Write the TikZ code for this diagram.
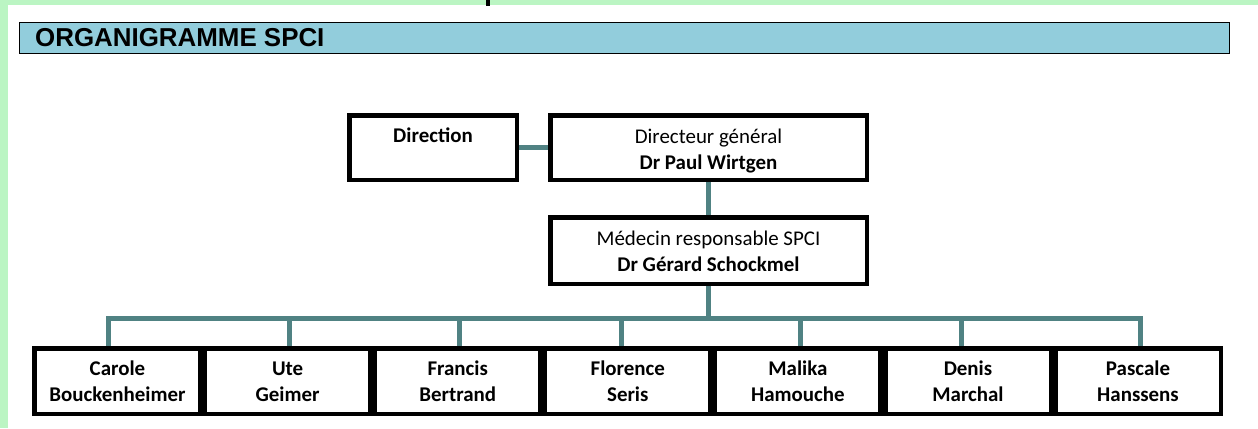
\documentclass[tikz,border=0pt]{standalone}
\usepackage{fontspec}
\setmainfont{Carlito}
\newfontfamily\headfont{Liberation Sans}
\definecolor{bggreen}{RGB}{187,245,195}
\definecolor{headblue}{RGB}{146,205,220}
\definecolor{linkteal}{RGB}{80,130,131}
\newcommand\boxtext[2]{\raisebox{-#1}[\height][\depth]{\begin{tabular}{@{}c@{}}#2\end{tabular}}}
\begin{document}
\begin{tikzpicture}[x=1bp,y=-1bp,
  orgbox/.style={draw=black, line width=3bp, fill=white, rectangle, inner sep=0pt,
    font=\fontsize{21}{26}\selectfont, text=black},
  topbox/.style={orgbox, minimum height=63bp},
  staffbox/.style={orgbox, minimum width=164bp, minimum height=64bp, font=\bfseries\fontsize{21}{26}\selectfont},
  link/.style={draw=linkteal, line width=5bp}]
\useasboundingbox (0,0) rectangle (1258,428);
% background
\fill[white] (0,0) rectangle (1258,428);
\fill[bggreen] (0,0) rectangle (1258,5);
\fill[bggreen] (0,0) rectangle (7.5,428);
\fill[black] (486,0) rectangle (490,6);
% header
\node[draw=black, line width=1.2bp, fill=headblue, inner sep=0pt, minimum width=1210bp, minimum height=31bp, anchor=north west] (header) at (19,22) {};
\node[font=\headfont\bfseries\fontsize{26}{30}\selectfont, anchor=base west, inner sep=0pt] (title) at (35,46.5) {ORGANIGRAMME SPCI};
% top boxes
\node[topbox, minimum width=166bp] (dir) at (433,147.5) {\boxtext{3bp}{\textbf{Direction}\\ \mbox{}}};
\node[topbox, minimum width=315bp] (dg) at (708.5,147.5) {\boxtext{4bp}{Directeur général\\\textbf{Dr Paul Wirtgen}}};
\node[orgbox, minimum width=315bp, minimum height=65bp] (med) at (708.5,250.5) {\boxtext{2.5bp}{Médecin responsable SPCI\\\textbf{Dr Gérard Schockmel}}};
% staff
\node[staffbox] (s1) at (117.5,381) {\boxtext{2bp}{Carole\\Bouckenheimer}};
\node[staffbox] (s2) at (287.6,381) {\boxtext{2bp}{Ute\\Geimer}};
\node[staffbox] (s3) at (457.7,381) {\boxtext{2bp}{Francis\\Bertrand}};
\node[staffbox] (s4) at (627.8,381) {\boxtext{2bp}{Florence\\Seris}};
\node[staffbox] (s5) at (797.9,381) {\boxtext{2bp}{Malika\\Hamouche}};
\node[staffbox] (s6) at (968,381) {\boxtext{2bp}{Denis\\Marchal}};
\node[staffbox] (s7) at (1138,381) {\boxtext{2bp}{Pascale\\Hanssens}};
% connectors
\draw[link] (dir.east) -- (dg.west);
\draw[link] (dg.south) -- (med.north);
\coordinate (bus) at (708.5,318);
\draw[link] (med.south) -- (bus);
\draw[link, line join=miter] ([xshift=-9.5bp]s1.north) |- (bus);
\draw[link, line join=miter] ([xshift=2bp]s7.north) |- (bus);
\draw[link] ([xshift=1.4bp]s2.north) -- ([xshift=1.4bp]s2.north |- bus);
\draw[link] ([xshift=1.3bp]s3.north) -- ([xshift=1.3bp]s3.north |- bus);
\draw[link] ([xshift=-6.8bp]s4.north) -- ([xshift=-6.8bp]s4.north |- bus);
\draw[link] ([xshift=2.1bp]s5.north) -- ([xshift=2.1bp]s5.north |- bus);
\draw[link] ([xshift=-7bp]s6.north) -- ([xshift=-7bp]s6.north |- bus);
% redraw box outlines above connectors
\foreach \n in {dir,dg,med,s1,s2,s3,s4,s5,s6,s7} {
  \draw[line width=3bp] (\n.north west) rectangle (\n.south east);
}
\end{tikzpicture}
\end{document}
